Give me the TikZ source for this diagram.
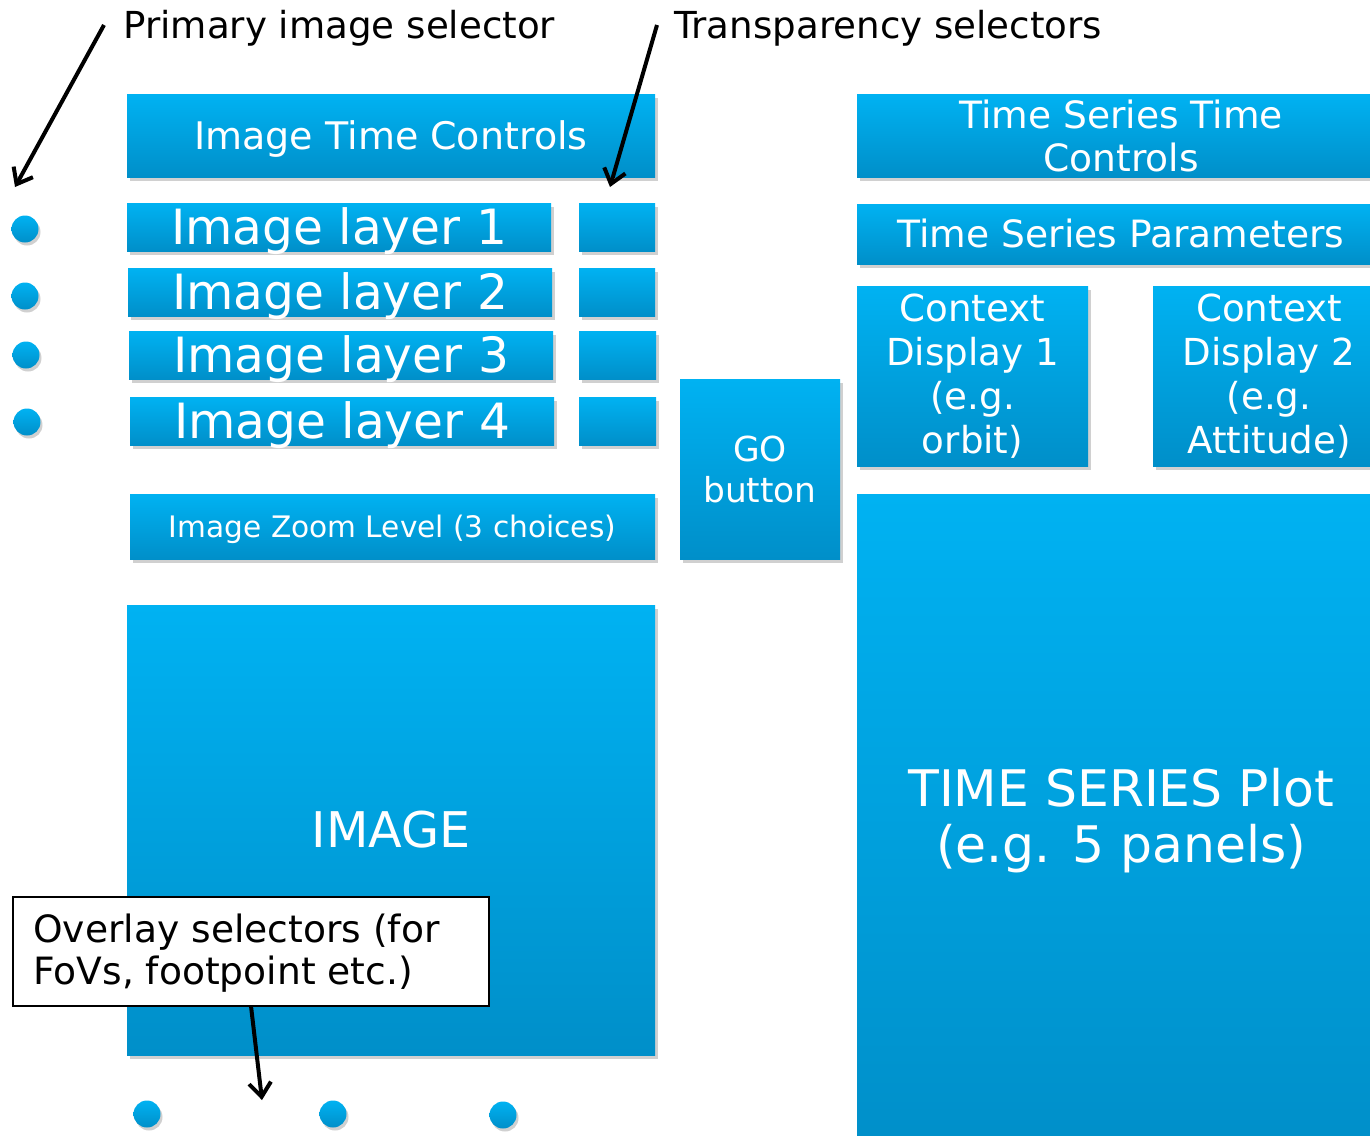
\documentclass[tikz,border=0pt]{standalone}
\usepackage{fontspec}
\setmainfont{DejaVu Sans}
\usetikzlibrary{arrows.meta,shadows}
\definecolor{btop}{HTML}{00B2F2}
\definecolor{bbot}{HTML}{008FC9}
\tikzset{
  bx/.style={rectangle, inner sep=0pt, outer sep=0pt, top color=btop, bottom color=bbot,
    text=white, align=center,
    drop shadow={opacity=0.3, shadow xshift=1.5pt, shadow yshift=-2pt, fill=black!60}},
  dot/.style={circle, inner sep=0pt, minimum size=13.5pt, top color=btop, bottom color=bbot,
    drop shadow={opacity=0.3, shadow xshift=1pt, shadow yshift=-1.5pt, fill=black!60}},
  lbl/.style={inner sep=0pt, anchor=west, font=\fontsize{18.6}{22}\selectfont, text height=13.6pt, text depth=0pt},
  arr/.style={line width=2pt, -{Straight Barb[length=7pt, width=11pt, line width=2pt]}},
  fmid/.style={font=\fontsize{19}{21.5}\selectfont},
  fbig/.style={font=\fontsize{24.3}{30}\selectfont, text height=17.7pt, text depth=0pt},
}
\begin{document}
\begin{tikzpicture}[x=0.5pt, y=-0.5pt]
\clip (0,0) rectangle (1370,1135);
\fill[white] (0,0) rectangle (1370,1135);
% left column
\node[bx, fmid, text height=13.9pt, text depth=0pt, minimum width=264pt, minimum height=41.5pt] (itc) at (391,135.5) {Image Time Controls};
\node[bx, fbig, minimum width=212pt, minimum height=24pt] (l1) at (339,227) {Image layer 1};
\node[bx, fbig, minimum width=212pt, minimum height=24pt] (l2) at (340,292) {Image layer 2};
\node[bx, fbig, minimum width=212pt, minimum height=24pt] (l3) at (341,355) {Image layer 3};
\node[bx, fbig, minimum width=212pt, minimum height=24pt] (l4) at (342,421) {Image layer 4};
\node[bx, minimum width=38pt, minimum height=24pt] (s1) at (617,227) {};
\node[bx, minimum width=38pt, minimum height=24pt] (s2) at (617,292) {};
\node[bx, minimum width=38.5pt, minimum height=24pt] (s3) at (617.5,355) {};
\node[bx, minimum width=38.5pt, minimum height=24pt] (s4) at (617.5,421) {};
\node[bx, font=\fontsize{14.8}{18}\selectfont, text height=10.8pt, text depth=0pt, minimum width=262.5pt, minimum height=32.5pt] (zoom) at (392.5,526.5) {Image Zoom Level (3 choices)};
\node[bx, font=\fontsize{24.6}{30}\selectfont, text height=17.9pt, text depth=0pt, minimum width=264pt, minimum height=225pt] (img) at (391,830) {IMAGE};
\node[bx, font=\fontsize{17.2}{20.5}\selectfont, minimum width=80pt, minimum height=90pt] (go) at (760,469) {GO\\button};
% right column
\node[bx, font=\fontsize{18.8}{21.5}\selectfont, minimum width=264pt, minimum height=41.5pt] (tstc) at (1121,135.5) {Time Series Time\\Controls};
\node[bx, font=\fontsize{18.8}{21.5}\selectfont, text height=13.7pt, text depth=0pt, minimum width=264pt, minimum height=30pt] (tsp) at (1121,234) {Time Series Parameters};
\node[bx, font=\fontsize{18.6}{22}\selectfont, minimum width=115.5pt, minimum height=90pt] (cd1) at (972.5,376) {Context\\Display 1\\(e.g.\\orbit)};
\node[bx, font=\fontsize{18.6}{22}\selectfont, minimum width=116pt, minimum height=90pt] (cd2) at (1269,376) {Context\\Display 2\\(e.g.\\Attitude)};
\node[bx, font=\fontsize{25.2}{28}\selectfont, minimum width=264pt, minimum height=327pt] (ts) at (1121,821) {TIME SERIES Plot\\(e.g. 5 panels)};
% dots
\node[dot] (d1) at (25,229) {};
\node[dot] (d2) at (25,296) {};
\node[dot] (d3) at (26,355) {};
\node[dot] (d4) at (27,422) {};
\node[dot] (o1) at (147,1114) {};
\node[dot] (o2) at (333,1114) {};
\node[dot] (o3) at (503,1115) {};
% labels
\node[lbl] (pl) at (123,25) {Primary image selector};
\node[lbl] (tl) at (674,25) {Transparency selectors};
\node[draw=black, line width=1pt, fill=white, minimum width=238pt, minimum height=54.5pt,
      inner sep=0pt, outer sep=0pt] (ov) at (251,951.5) {};
\node[anchor=west, inner sep=0pt, align=left, font=\fontsize{18.8}{21}\selectfont] (ovt) at (33,953) {Overlay selectors (for\\FoVs, footpoint etc.)};
% arrows
\coordinate (pa) at (104,25);
\coordinate (pe) at (15,187);
\coordinate (ta) at (657,25);
\coordinate (te) at (610,187);
\coordinate (oe) at (262,1100);
\draw[arr] (pa) -- (pe);
\draw[arr] (ta) -- (te);
\draw[arr] (ov.south) -- (oe);
\end{tikzpicture}
\end{document}
